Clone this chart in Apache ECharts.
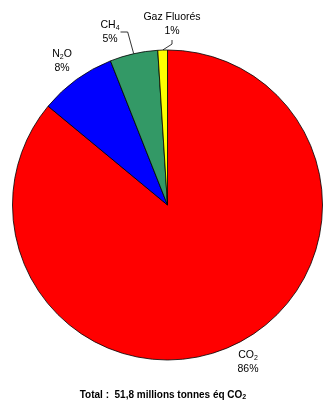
<!DOCTYPE html>
<html>
<head>
<meta charset="utf-8">
<script src="https://cdn.jsdelivr.net/npm/echarts@6/dist/echarts.min.js"></script>
<style>
  html, body { margin: 0; padding: 0; background: #fff; }
  #chart { width: 326px; height: 400px; }
</style>
</head>
<body>
<div id="chart"></div>
<script>
  // gaz a effet de serre, part en %
  var gazNames = ['CO2', 'N2O', 'CH4', 'Gaz Fluorés'];
  var gazLabels = ['CO{s|2}', 'N{s|2}O', 'CH{s|4}', 'Gaz Fluorés'];
  var gazValues = [86, 8, 5, 1];
  var gazColors = ['#ff0000', '#0000ff', '#339966', '#ffff00'];

  // position des etiquettes (centre du bloc de texte)
  var labelPos = [[248, 362], [62, 61], [110, 32], [172, 24]];
  var showLine = [false, false, true, true];

  var myChart = echarts.init(document.getElementById('chart'));

  var data = gazValues.map(function (v, i) {
    return {
      name: gazNames[i],
      value: v,
      itemStyle: {color: gazColors[i]},
      label: {
        formatter: gazLabels[i] + '\n' + v + '%'
      },
      labelLine: {show: showLine[i]}
    };
  });

  var option = {
    animation: false,
    title: {
      text: 'Total :  51,8 millions tonnes éq CO{s|2}',
      left: 'center',
      top: 385,
      textStyle: {
        fontFamily: 'Liberation Sans',
        fontSize: 10,
        fontWeight: 'bold',
        color: '#000',
        rich: {
          s: {fontSize: 7, fontWeight: 'bold', fontFamily: 'Liberation Sans', verticalAlign: 'bottom', padding: [4, 0, 0, 0]}
        }
      }
    },
    series: [{
      type: 'pie',
      center: [167.5, 205],
      radius: 155,
      startAngle: 90,
      clockwise: true,
      data: data,
      itemStyle: {borderColor: '#000', borderWidth: 0.8},
      emphasis: {disabled: true},
      label: {
        show: true,
        position: 'outside',
        align: 'center',
        fontFamily: 'Liberation Sans',
        fontSize: 10.5,
        lineHeight: 14,
        color: '#000',
        rich: {
          s: {fontSize: 7, fontFamily: 'Liberation Sans', verticalAlign: 'bottom', padding: [5, 0, 0, 0], color: '#000'}
        }
      },
      labelLine: {
        length: 10,
        length2: 6,
        lineStyle: {color: '#000', width: 0.8}
      },
      labelLayout: function (params) {
        var i = params.dataIndex;
        var p = labelPos[i];
        var res = {x: p[0], y: p[1], align: 'center', verticalAlign: 'middle'};
        var pts = params.labelLinePoints;
        if (pts && showLine[i]) {
          var edge = pts[0];
          var w = params.labelRect.width;
          if (i === 2) {
            // ligne qui remonte puis part vers la droite de l'etiquette
            res.labelLinePoints = [edge, [edge[0] - 6, p[1]], [p[0] + w / 2 + 1, p[1]]];
          } else {
            res.labelLinePoints = [edge, [p[0], edge[1] - 6], [p[0], p[1] + 16]];
          }
        }
        return res;
      }
    }]
  };

  myChart.setOption(option);
</script>
</body>
</html>
